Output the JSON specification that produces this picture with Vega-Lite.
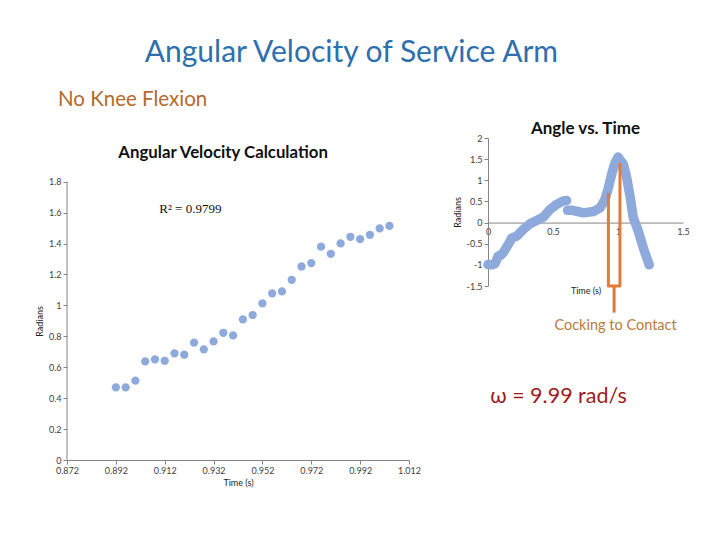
{
  "$schema": "https://vega.github.io/schema/vega-lite/v6.json",
  "background": "white",
  "padding": {"left": 35, "top": 37, "right": 5, "bottom": 5},
  "title": {"text": "Angular Velocity of Service Arm", "anchor": "middle", "font": "Lato", "fontSize": 30, "fontWeight": "normal", "color": "#2E6FAD", "offset": 22, "dx": -11},
  "config": {
    "view": {"stroke": null},
    "axis": {"grid": false, "domainColor": "#868686", "tickColor": "#868686", "labelColor": "#404040", "labelFont": "Lato", "labelFontSize": 9, "titleFont": "Lato", "titleFontSize": 9, "titleColor": "#222222", "titleFontWeight": "normal", "tickSize": 4, "labelOverlap": false, "tickCount": 30}
  },
  "datasets": {
    "velocity": [
      {"time": 0.892, "radians": 0.470}, {"time": 0.896, "radians": 0.470}, {"time": 0.900, "radians": 0.513},
      {"time": 0.904, "radians": 0.638}, {"time": 0.908, "radians": 0.651}, {"time": 0.912, "radians": 0.642},
      {"time": 0.916, "radians": 0.690}, {"time": 0.920, "radians": 0.681}, {"time": 0.924, "radians": 0.759},
      {"time": 0.928, "radians": 0.716}, {"time": 0.932, "radians": 0.767}, {"time": 0.936, "radians": 0.823},
      {"time": 0.940, "radians": 0.806}, {"time": 0.944, "radians": 0.910}, {"time": 0.948, "radians": 0.938},
      {"time": 0.952, "radians": 1.013}, {"time": 0.956, "radians": 1.078}, {"time": 0.960, "radians": 1.091},
      {"time": 0.964, "radians": 1.166}, {"time": 0.968, "radians": 1.252}, {"time": 0.972, "radians": 1.274},
      {"time": 0.976, "radians": 1.380}, {"time": 0.980, "radians": 1.334}, {"time": 0.984, "radians": 1.401},
      {"time": 0.988, "radians": 1.444}, {"time": 0.992, "radians": 1.429}, {"time": 0.996, "radians": 1.457},
      {"time": 1.000, "radians": 1.498}, {"time": 1.004, "radians": 1.514}
    ],
    "angle": [
      {"seg": "a", "time": 0.0, "radians": -0.99}, {"seg": "a", "time": 0.03, "radians": -1.0},
      {"seg": "a", "time": 0.054, "radians": -0.97}, {"seg": "a", "time": 0.079, "radians": -0.79},
      {"seg": "a", "time": 0.1, "radians": -0.77}, {"seg": "a", "time": 0.118, "radians": -0.71},
      {"seg": "a", "time": 0.156, "radians": -0.52}, {"seg": "a", "time": 0.182, "radians": -0.37},
      {"seg": "a", "time": 0.221, "radians": -0.32}, {"seg": "a", "time": 0.272, "radians": -0.16},
      {"seg": "a", "time": 0.323, "radians": -0.03}, {"seg": "a", "time": 0.374, "radians": 0.05},
      {"seg": "a", "time": 0.426, "radians": 0.13}, {"seg": "a", "time": 0.477, "radians": 0.31},
      {"seg": "a", "time": 0.528, "radians": 0.43}, {"seg": "a", "time": 0.579, "radians": 0.51},
      {"seg": "a", "time": 0.605, "radians": 0.52},
      {"seg": "b", "time": 0.612, "radians": 0.29}, {"seg": "b", "time": 0.65, "radians": 0.29},
      {"seg": "b", "time": 0.708, "radians": 0.25}, {"seg": "b", "time": 0.733, "radians": 0.23},
      {"seg": "b", "time": 0.81, "radians": 0.26}, {"seg": "b", "time": 0.862, "radians": 0.35},
      {"seg": "b", "time": 0.9, "radians": 0.55}, {"seg": "b", "time": 0.926, "radians": 0.82},
      {"seg": "b", "time": 0.951, "radians": 1.14}, {"seg": "b", "time": 0.977, "radians": 1.41},
      {"seg": "b", "time": 1.0, "radians": 1.55}, {"seg": "b", "time": 1.041, "radians": 1.38},
      {"seg": "b", "time": 1.067, "radians": 1.06}, {"seg": "b", "time": 1.092, "radians": 0.63},
      {"seg": "b", "time": 1.118, "radians": 0.11}, {"seg": "b", "time": 1.156, "radians": -0.2},
      {"seg": "b", "time": 1.195, "radians": -0.6}, {"seg": "b", "time": 1.24, "radians": -1.0}
    ],
    "bracket": [
      {"part": "u", "step": 1, "time": 0.926, "radians": 0.70},
      {"part": "u", "step": 2, "time": 0.926, "radians": -1.5},
      {"part": "u", "step": 3, "time": 1.015, "radians": -1.5},
      {"part": "u", "step": 4, "time": 1.015, "radians": 1.41},
      {"part": "stem", "step": 1, "time": 0.97, "radians": -1.5},
      {"part": "stem", "step": 2, "time": 0.97, "radians": -2.13}
    ]
  },
  "hconcat": [
    {
      "width": 342,
      "height": 322,
      "layer": [
        {
          "data": {"values": [{"t0": 0.872, "r0": 0, "r1": 1.8}]},
          "mark": {"type": "rule", "color": "#868686", "strokeWidth": 1},
          "encoding": {
            "x": {"field": "t0", "type": "quantitative"},
            "y": {"field": "r0", "type": "quantitative"},
            "y2": {"field": "r1"}
          }
        },
        {
          "data": {"name": "velocity"},
          "mark": {"type": "point", "filled": true, "size": 68, "color": "#8EA9DB", "opacity": 1},
          "encoding": {
            "x": {"field": "time", "type": "quantitative", "scale": {"domain": [0.872, 1.012], "nice": false, "zero": false},
                  "axis": {"values": [0.872, 0.892, 0.912, 0.932, 0.952, 0.972, 0.992, 1.012], "tickCount": 30, "format": ".3f", "title": "Time (s)", "labelFlush": false, "labelOverlap": false, "titlePadding": 3}},
            "y": {"field": "radians", "type": "quantitative", "scale": {"domain": [0, 2.083], "nice": false, "zero": false},
                  "axis": {"values": [0, 0.2, 0.4, 0.6, 0.8, 1, 1.2, 1.4, 1.6, 1.8], "tickCount": 30, "format": "~g", "domain": false, "labelOverlap": false, "title": "Radians", "titleY": 183}}
          }
        },
        {
          "data": {"values": [{"label": "R² = 0.9799", "t": 0.9225, "r": 1.624}]},
          "mark": {"type": "text", "font": "Liberation Serif", "fontSize": 13, "color": "#111111", "align": "center", "baseline": "middle"},
          "encoding": {"x": {"field": "t", "type": "quantitative"}, "y": {"field": "r", "type": "quantitative"}, "text": {"field": "label"}}
        },
        {
          "data": {"values": [{"label": "Angular Velocity Calculation", "t": 0.9359, "r": 1.986}]},
          "mark": {"type": "text", "font": "Lato", "fontSize": 16.8, "fontWeight": "bold", "color": "#111111", "align": "center", "baseline": "middle"},
          "encoding": {"x": {"field": "t", "type": "quantitative"}, "y": {"field": "r", "type": "quantitative"}, "text": {"field": "label"}}
        },
        {
          "data": {"values": [{"label": "No Knee Flexion", "t": 0.8683, "r": 2.329}]},
          "mark": {"type": "text", "font": "Lato", "fontSize": 20.5, "color": "#B5692A", "align": "left", "baseline": "middle"},
          "encoding": {"x": {"field": "t", "type": "quantitative"}, "y": {"field": "r", "type": "quantitative"}, "text": {"field": "label"}}
        }
      ]
    },
    {
      "width": 195,
      "height": 148,
      "title": {"text": "Angle vs. Time", "font": "Lato", "fontSize": 17, "fontWeight": "bold", "color": "#111111", "offset": -4},
      "layer": [
        {
          "data": {"name": "angle"},
          "mark": {"type": "line", "color": "#8EA9DB", "strokeWidth": 9.5, "strokeCap": "round", "strokeJoin": "round"},
          "encoding": {
            "x": {"field": "time", "type": "quantitative", "scale": {"domain": [0, 1.5], "nice": false},
                  "axis": {"values": [0, 0.5, 1, 1.5], "tickCount": 30, "format": "~g", "title": "Time (s)", "offset": -63.43, "ticks": false, "labelPadding": 5, "labelFlush": false, "labelOverlap": false, "titleY": 64}},
            "y": {"field": "radians", "type": "quantitative", "scale": {"domain": [-1.5, 2], "nice": false},
                  "axis": {"values": [-1.5, -1, -0.5, 0, 0.5, 1, 1.5, 2], "tickCount": 30, "labelExpr": "datum.value < 0 ? '-' + format(-datum.value, '~g') : format(datum.value, '~g')", "labelOverlap": false, "title": "Radians", "tickSize": 4}},
            "detail": {"field": "seg"}
          }
        },
        {
          "data": {"name": "bracket"},
          "mark": {"type": "line", "color": "#E07B39", "strokeWidth": 3, "strokeJoin": "round"},
          "encoding": {
            "x": {"field": "time", "type": "quantitative"},
            "y": {"field": "radians", "type": "quantitative"},
            "detail": {"field": "part"},
            "order": {"field": "step"}
          }
        },
        {
          "data": {"values": [{"label": "Cocking to Contact", "t": 0.981, "r": -2.45}]},
          "mark": {"type": "text", "font": "Lato", "fontSize": 14.5, "color": "#B97A3A", "align": "center", "baseline": "middle"},
          "encoding": {"x": {"field": "t", "type": "quantitative"}, "y": {"field": "r", "type": "quantitative"}, "text": {"field": "label"}}
        },
        {
          "data": {"values": [{"label": "ω = 9.99 rad/s", "t": 0.542, "r": -4.13}]},
          "mark": {"type": "text", "font": "Lato", "fontSize": 21.5, "color": "#9E1B1B", "align": "center", "baseline": "middle"},
          "encoding": {"x": {"field": "t", "type": "quantitative"}, "y": {"field": "r", "type": "quantitative"}, "text": {"field": "label"}}
        }
      ]
    }
  ],
  "spacing": 32
}
